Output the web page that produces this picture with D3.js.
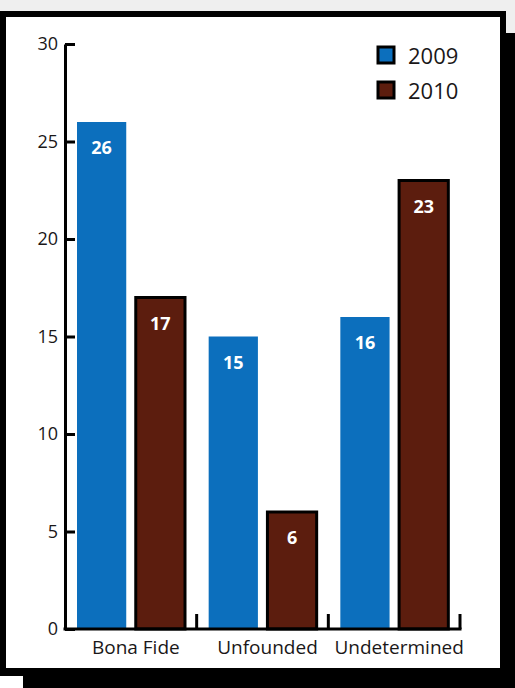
<!DOCTYPE html>
<html>
<head>
<meta charset="utf-8">
<script src="https://cdn.jsdelivr.net/npm/d3@7"></script>
<style>
  html, body { margin: 0; padding: 0; background: #000; }
  svg { display: block; }
  text { font-family: "Open Sans", "Noto Sans", sans-serif; }
</style>
</head>
<body>
<script>
const categories = ["Bona Fide", "Unfounded", "Undetermined"];
const seriesNames = ["2009", "2010"];
const values2009 = [26, 15, 16];
const values2010 = [17, 6, 23];
const yTickValues = [0, 5, 10, 15, 20, 25, 30];

const W = 515, H = 688;
const colors = { "2009": "#0C6FBD", "2010": "#5C1D0E" };
const ink = "#1a1718";

const svg = d3.select("body").append("svg").attr("width", W).attr("height", H);

// frame
svg.append("rect").attr("x", 0).attr("y", 0).attr("width", W).attr("height", H).attr("fill", "#000");
svg.append("rect").attr("x", 0).attr("y", 0).attr("width", W).attr("height", 11).attr("fill", "#efefef");
svg.append("rect").attr("x", 506).attr("y", 0).attr("width", 9).attr("height", 33).attr("fill", "#efefef");
svg.append("rect").attr("x", 6).attr("y", 17).attr("width", 494).attr("height", 651).attr("fill", "#fff");
svg.append("rect").attr("x", 0).attr("y", 676).attr("width", 23).attr("height", 12).attr("fill", "#fff");

const y = d3.scaleLinear().domain([0, 30]).range([629, 44]);
const x = d3.scaleBand().domain(categories).range([65, 460]).paddingInner(0).paddingOuter(0);
const xs = d3.scaleBand().domain(seriesNames).range([12, 120]).paddingInner(0.162).paddingOuter(0);

const rows = categories.map((c, i) => ({ cat: c, "2009": values2009[i], "2010": values2010[i] }));

// bars
const g = svg.append("g");
rows.forEach(r => {
  seriesNames.forEach(s => {
    const bx = x(r.cat) + xs(s);
    const by = y(r[s]);
    g.append("rect")
      .attr("x", bx).attr("y", by)
      .attr("width", xs.bandwidth())
      .attr("height", y(0) - by)
      .attr("fill", colors[s])
      .attr("stroke", s === "2010" ? "#000" : "none")
      .attr("stroke-width", 3);
    g.append("text")
      .attr("x", bx + xs.bandwidth() / 2)
      .attr("y", by + 32)
      .attr("text-anchor", "middle")
      .attr("fill", "#fff")
      .attr("font-weight", 700)
      .attr("font-size", 18)
      .text(r[s]);
  });
});

// y axis
const yAxis = d3.axisLeft(y).tickValues(yTickValues).tickSize(-10).tickSizeOuter(0).tickPadding(7);
const ya = svg.append("g").attr("transform", "translate(65,0)").call(yAxis);
ya.select(".domain").attr("stroke", "#000").attr("stroke-width", 3);
ya.selectAll(".tick line").attr("stroke", "#000").attr("stroke-width", 3);
ya.selectAll(".tick text").attr("font-size", 18).attr("fill", ink).attr("font-weight", 500);

// x axis baseline
svg.append("line").attr("x1", 63.5).attr("x2", 461.5).attr("y1", y(0)).attr("y2", y(0))
  .attr("stroke", "#000").attr("stroke-width", 3);
// group separators
categories.forEach(c => {
  const sx = x(c) + x.bandwidth();
  svg.append("line").attr("x1", sx).attr("x2", sx).attr("y1", y(0)).attr("y2", y(0) - 15)
    .attr("stroke", "#000").attr("stroke-width", 3);
});
// x labels
const xAxis = d3.axisBottom(x).tickSize(0).tickPadding(0);
const xa = svg.append("g").attr("transform", `translate(5,${y(0) + 25})`).call(xAxis);
xa.select(".domain").remove();
xa.selectAll(".tick text").attr("font-size", 19).attr("fill", ink).attr("dy", 0).attr("font-weight", 500);

// legend
const leg = svg.append("g").attr("transform", "translate(378,47)");
seriesNames.forEach((s, i) => {
  const lg = leg.append("g").attr("transform", `translate(0,${i * 35})`);
  lg.append("rect").attr("x", 0).attr("y", 0).attr("width", 16).attr("height", 16)
    .attr("fill", colors[s]).attr("stroke", "#000").attr("stroke-width", 3);
  lg.append("text").attr("x", 30).attr("y", 17).attr("font-size", 22).attr("fill", ink)
    .attr("font-weight", 500).text(s);
});
</script>
</body>
</html>
